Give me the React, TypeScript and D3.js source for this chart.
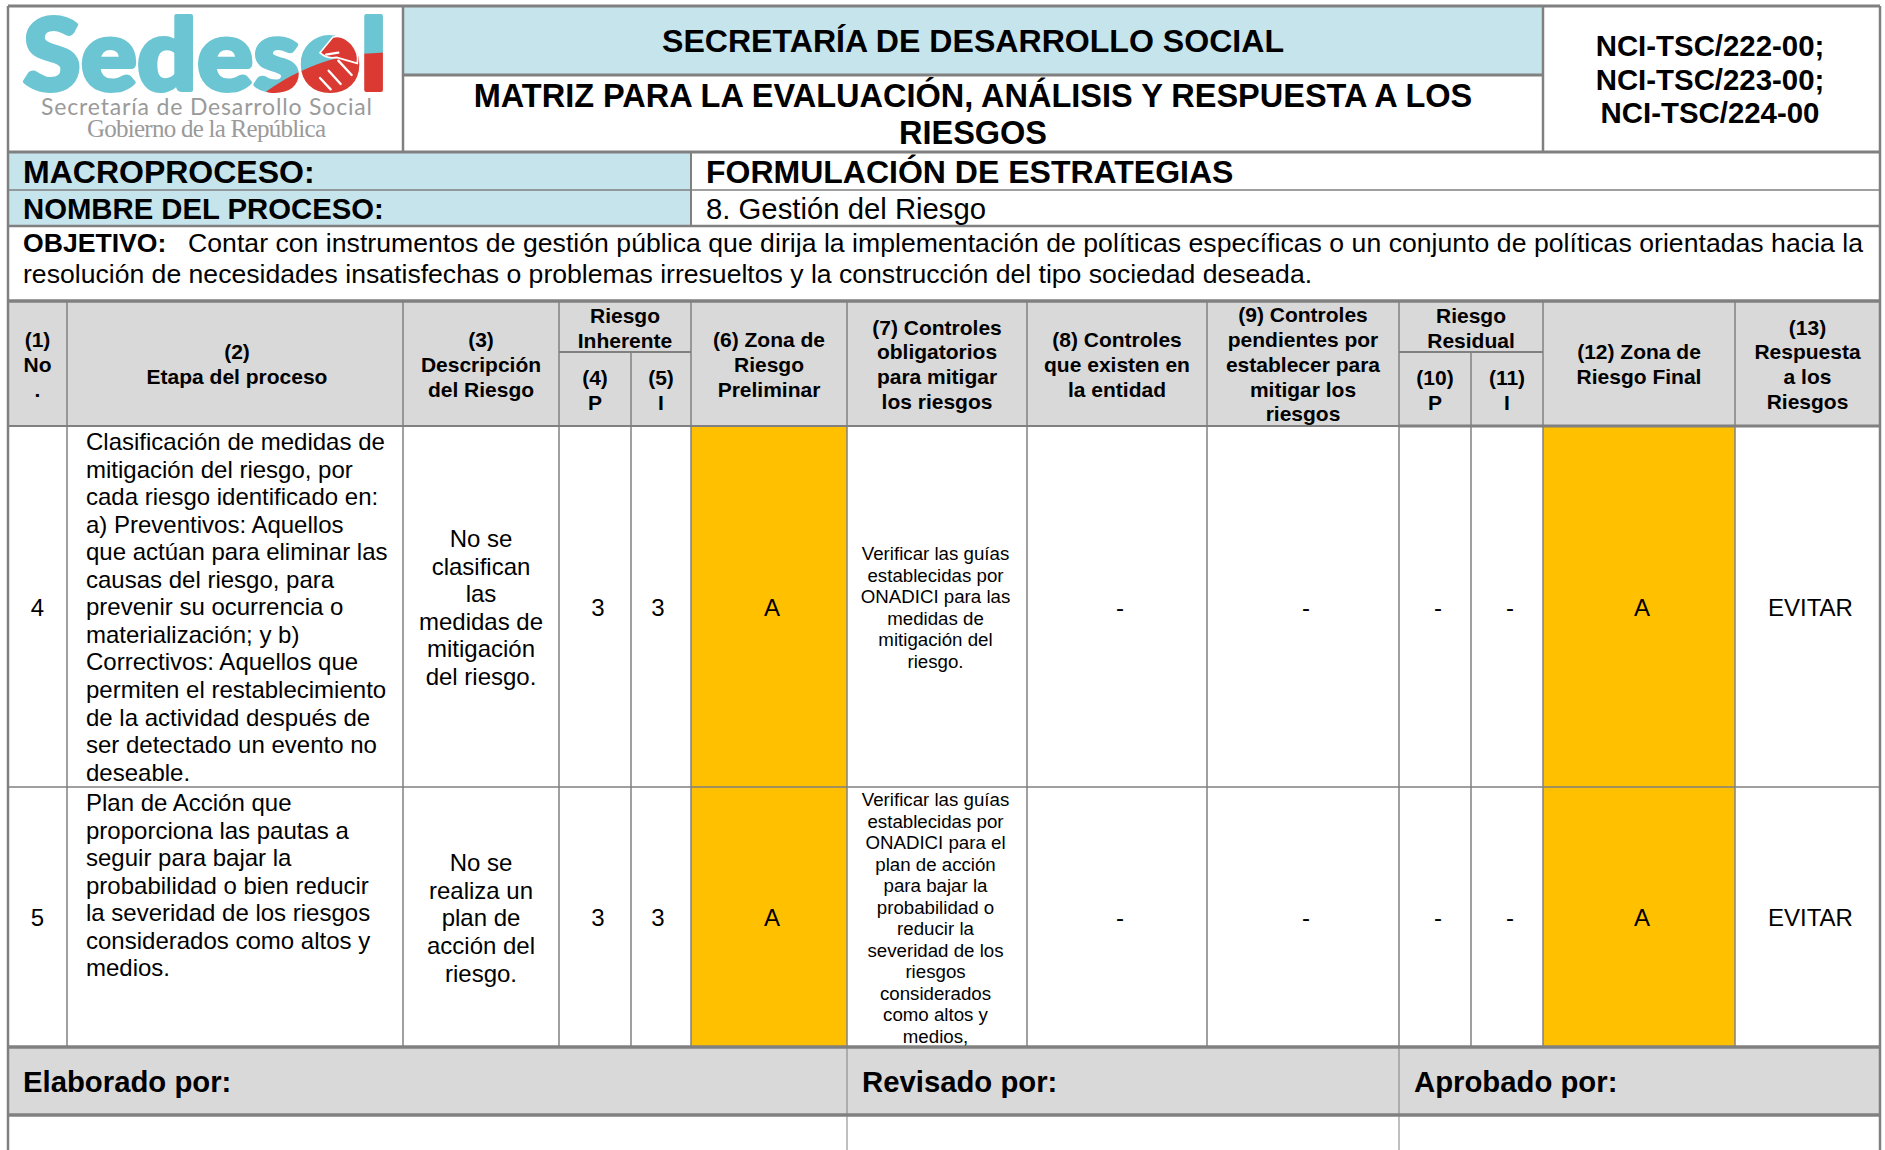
import { useEffect, useRef } from "react";
import * as d3 from "d3";

const FONT = "'Liberation Sans', Arial, sans-serif";

// table text
const orgTitle = "SECRETARÍA DE DESARROLLO SOCIAL";
const matrixTitle = ["MATRIZ PARA LA EVALUACIÓN, ANÁLISIS Y RESPUESTA A LOS", "RIESGOS"];
const docCodes = ["NCI-TSC/222-00;", "NCI-TSC/223-00;", "NCI-TSC/224-00"];
const objectiveLines = [
    "Contar con instrumentos de gestión pública que dirija la implementación de políticas específicas o un conjunto de políticas orientadas hacia la",
    "resolución de necesidades insatisfechas o problemas irresueltos y la construcción del tipo sociedad deseada.",
];

const columnKeys = ["no", "etapa", "desc", "p1", "i1", "zona1", "oblig", "exist", "pend", "p2", "i2", "zona2", "resp", "end"];
const columnEdges = [8, 67, 403, 559, 631, 691, 847, 1027, 1207, 1399, 1471, 1543, 1735, 1880];
const rowKeys = ["top", "band", "head", "macro", "nombre", "obj", "row4", "row5", "foot", "sign", "bottom"];
const rowEdges = [6, 75, 152, 190, 226, 301, 426, 787, 1047, 1115, 1150];

const headerCells: [string, string, string[]][] = [
    ["no", "etapa", ["(1)", "No", "."]],
    ["etapa", "desc", ["(2)", "Etapa del proceso"]],
    ["desc", "p1", ["(3)", "Descripción", "del Riesgo"]],
    ["zona1", "oblig", ["(6) Zona de", "Riesgo", "Preliminar"]],
    ["oblig", "exist", ["(7) Controles", "obligatorios", "para mitigar", "los riesgos"]],
    ["exist", "pend", ["(8) Controles", "que existen en", "la entidad"]],
    ["pend", "p2", ["(9) Controles", "pendientes por", "establecer para", "mitigar los", "riesgos"]],
    ["zona2", "resp", ["(12) Zona de", "Riesgo Final"]],
    ["resp", "end", ["(13)", "Respuesta", "a los", "Riesgos"]],
];
const groupCells: [string, string, string[]][] = [
    ["p1", "zona1", ["Riesgo", "Inherente"]],
    ["p2", "zona2", ["Riesgo", "Residual"]],
];
const subCells: [string, string, string[]][] = [
    ["p1", "i1", ["(4)", "P"]],
    ["i1", "zona1", ["(5)", "I"]],
    ["p2", "i2", ["(10)", "P"]],
    ["i2", "zona2", ["(11)", "I"]],
];

const riskRows = [
    {
        key: "row4",
        next: "row5",
        no: "4",
        stage: [
            "Clasificación de medidas de",
            "mitigación del riesgo, por",
            "cada riesgo identificado en:",
            "a) Preventivos: Aquellos",
            "que actúan para eliminar las",
            "causas del riesgo, para",
            "prevenir su ocurrencia o",
            "materialización; y b)",
            "Correctivos: Aquellos que",
            "permiten el restablecimiento",
            "de la actividad después de",
            "ser detectado un evento no",
            "deseable.",
        ],
        description: ["No se", "clasifican", "las", "medidas de", "mitigación", "del riesgo."],
        controls: [
            "Verificar las guías",
            "establecidas por",
            "ONADICI para las",
            "medidas de",
            "mitigación del",
            "riesgo.",
        ],
    },
    {
        key: "row5",
        next: "foot",
        no: "5",
        stage: [
            "Plan de Acción que",
            "proporciona las pautas a",
            "seguir para bajar la",
            "probabilidad o bien reducir",
            "la severidad de los riesgos",
            "considerados como altos y",
            "medios.",
        ],
        description: ["No se", "realiza un", "plan de", "acción del", "riesgo."],
        controls: [
            "Verificar las guías",
            "establecidas por",
            "ONADICI para el",
            "plan de acción",
            "para bajar la",
            "probabilidad o",
            "reducir la",
            "severidad de los",
            "riesgos",
            "considerados",
            "como altos y",
            "medios,",
        ],
    },
];
const rowScores: [string, string, string, number][] = [
    ["p1", "i1", "3", 3],
    ["i1", "zona1", "3", -3],
    ["exist", "pend", "-", 3],
    ["pend", "p2", "-", 3],
    ["p2", "i2", "-", 3],
    ["i2", "zona2", "-", 3],
    ["resp", "end", "EVITAR", 3],
];
const footerLabels: [string, string][] = [
    ["Elaborado por:", "no"],
    ["Revisado por:", "oblig"],
    ["Aprobado por:", "p2"],
];

const x = d3.scaleOrdinal<string, number>(columnKeys, columnEdges);
const y = d3.scaleOrdinal<string, number>(rowKeys, rowEdges);
const mid = (a: string, b: string) => (x(a) + x(b)) / 2;

type TextOpts = { size: number; weight?: string; anchor?: string; lh?: number; fill?: string };

const App = () => {
    const svgRef = useRef<SVGSVGElement>(null);

    useEffect(() => {
        const svg = d3.select(svgRef.current);
        svg.selectAll("*").remove();

        const rect = (x0: number, y0: number, x1: number, y1: number, fill: string) =>
            svg.append("rect").attr("x", x0).attr("y", y0).attr("width", x1 - x0).attr("height", y1 - y0).attr("fill", fill);

        // first baseline given
        const textAt = (lines: string[], tx: number, ty: number, o: TextOpts) =>
            svg
                .append("g")
                .attr("font-family", FONT)
                .attr("font-size", o.size)
                .attr("font-weight", o.weight ?? "normal")
                .attr("text-anchor", o.anchor ?? "start")
                .attr("fill", o.fill ?? "#000")
                .selectAll("text")
                .data(lines)
                .join("text")
                .attr("x", tx)
                .attr("y", (_, i) => ty + i * (o.lh ?? 0))
                .text((d) => d);

        // block centred on cy
        const textMid = (lines: string[], tx: number, cy: number, o: TextOpts) =>
            textAt(lines, tx, cy - ((lines.length - 1) * (o.lh ?? 0)) / 2 + o.size * 0.35, { anchor: "middle", ...o });

        // fills
        const BLUE = "#c5e4ec";
        const GRAY = "#d9d9d9";
        const AMBER = "#ffc000";
        rect(x("desc"), y("top"), x("zona2"), y("band"), BLUE);
        rect(x("no"), y("head"), x("zona1"), y("nombre"), BLUE);
        rect(x("no"), y("obj") + 1, x("end"), y("row4"), GRAY);
        rect(x("no"), y("foot"), x("end"), y("sign"), GRAY);
        riskRows.forEach((r) => {
            rect(x("zona1"), y(r.key), x("oblig"), y(r.next), AMBER);
            rect(x("zona2"), y(r.key), x("resp"), y(r.next), AMBER);
        });

        // rules
        const rules: [number, number, number, number, number][] = [
            [x("no"), y("top"), x("end"), y("top"), 3],
            [x("desc"), y("band"), x("zona2"), y("band"), 3],
            [x("no"), y("head"), x("end"), y("head"), 3],
            [x("no"), y("macro"), x("end"), y("macro"), 1.5],
            [x("no"), y("nombre"), x("end"), y("nombre"), 2.5],
            [x("no"), y("obj"), x("end"), y("obj"), 3.5],
            [x("no"), y("row4"), x("p2"), y("row4"), 2],
            [x("p2"), y("row4"), x("end"), y("row4"), 3],
            [x("no"), y("row5"), x("end"), y("row5"), 1.5],
            [x("no"), y("foot"), x("end"), y("foot"), 3.5],
            [x("no"), y("sign"), x("end"), y("sign"), 3.5],
            [x("p1"), 352, x("zona1"), 352, 2],
            [x("p2"), 352, x("zona2"), 352, 2],
            [x("desc"), y("top"), x("desc"), y("head"), 2.5],
            [x("zona2"), y("top"), x("zona2"), y("head"), 2.5],
            [x("zona1"), y("head"), x("zona1"), y("nombre"), 2],
            [x("no"), y("top"), x("no"), y("bottom"), 2.5],
            [x("end"), y("top"), x("end"), y("bottom"), 2.5],
            [x("oblig"), y("foot"), x("oblig"), y("bottom"), 1],
            [x("p2"), y("foot"), x("p2"), y("bottom"), 1],
            [x("i1"), 352, x("i1"), y("foot"), 1.5],
            [x("i2"), 352, x("i2"), y("foot"), 1.5],
        ];
        ["etapa", "desc", "p1", "zona1", "oblig", "exist", "pend", "p2", "zona2", "resp"].forEach((k) =>
            rules.push([x(k), y("obj"), x(k), y("foot"), 1.5])
        );
        svg.append("g")
            .selectAll("line")
            .data(rules)
            .join("line")
            .attr("x1", (d) => d[0])
            .attr("y1", (d) => d[1])
            .attr("x2", (d) => d[2])
            .attr("y2", (d) => d[3])
            .attr("stroke", "#808080")
            .attr("stroke-width", (d) => d[4]);

        // top band
        textAt([orgTitle], 973, 52, { size: 32.1, weight: "bold", anchor: "middle" });
        textAt(matrixTitle, 973, 107, { size: 32.5, weight: "bold", anchor: "middle", lh: 37 });
        textAt(docCodes, 1710, 56, { size: 29.4, weight: "bold", anchor: "middle", lh: 33.5 });

        // process lines
        textAt(["MACROPROCESO:"], 23, 183, { size: 32, weight: "bold" });
        textAt(["NOMBRE DEL PROCESO:"], 23, 219, { size: 29.3, weight: "bold" });
        textAt(["FORMULACIÓN DE ESTRATEGIAS"], 706, 183, { size: 32, weight: "bold" });
        textAt(["8. Gestión del Riesgo"], 706, 219, { size: 29.3 });

        // objective
        textAt(["OBJETIVO:"], 23, 252, { size: 26.6, weight: "bold" });
        textAt([objectiveLines[0]], 188, 252, { size: 26.6 }).attr("textLength", 1675).attr("lengthAdjust", "spacing");
        textAt([objectiveLines[1]], 23, 283, { size: 26.6 });

        // table head
        const headOpts = { size: 21, weight: "bold", lh: 24.8 };
        const headMid = (y("obj") + y("row4")) / 2 + 1;
        headerCells.forEach(([a, b, lines]) =>
            textMid(lines, mid(a, b) + (a === "etapa" ? 2 : 0), headMid, headOpts)
        );
        groupCells.forEach(([a, b, lines]) => textMid(lines, mid(a, b), 328, headOpts));
        subCells.forEach(([a, b, lines]) => textMid(lines, mid(a, b), 390, headOpts));

        // risk rows
        riskRows.forEach((r) => {
            const cy = (y(r.key) + y(r.next)) / 2 + 1;
            const bodyOpts = { size: 24, lh: 27.56 };
            textMid([r.no], mid("no", "etapa"), cy, { size: 24 });
            textAt(r.stage, 86, y(r.key) + 24, { ...bodyOpts, anchor: "start" });
            textMid(r.description, mid("desc", "p1"), cy, bodyOpts);
            textMid(r.controls, mid("oblig", "exist") - 1.5, cy, { size: 18.7, lh: 21.5 });
            textMid(["A"], mid("zona1", "oblig") + 3, cy, { size: 24 });
            textMid(["A"], mid("zona2", "resp") + 3, cy, { size: 24 });
            rowScores.forEach(([a, b, v, nudge]) => textMid([v], mid(a, b) + nudge, cy, { size: 24 }));
        });

        // footer
        footerLabels.forEach(([label, col]) =>
            textAt([label], x(col) + 15, 1092, { size: 29.3, weight: "bold" })
        );

        // logo: teal word with a red lower sweep, done as a pattern so the word stays one text
        const pattern = svg
            .append("defs")
            .append("pattern")
            .attr("id", "logo-fill")
            .attr("patternUnits", "userSpaceOnUse")
            .attr("width", 1885)
            .attr("height", 1150);
        pattern.append("rect").attr("width", 1885).attr("height", 1150).attr("fill", "#6bc5d2");
        pattern
            .append("path")
            .attr("d", "M258,98 C285,76 320,60 352,55 C365,53 380,53 395,52 L395,100 Z")
            .attr("fill", "#db3a33");

        svg.append("circle").attr("cx", 329).attr("cy", 63).attr("r", 28).attr("fill", "url(#logo-fill)");
        svg.append("text")
            .attr("x", 23)
            .attr("y", 90)
            .attr("font-family", "Lato, 'Open Sans', sans-serif")
            .attr("font-weight", 900)
            .attr("font-size", 100)
            .attr("fill", "url(#logo-fill)")
            .attr("stroke", "url(#logo-fill)")
            .attr("stroke-width", 4)
            .attr("stroke-linejoin", "round")
            .attr("textLength", 364)
            .attr("lengthAdjust", "spacingAndGlyphs")
            .text("Sedesol");
        const hands = svg.append("g").attr("transform", "translate(270,20) scale(0.3333)");
        hands.append("path")
            .attr("d", "M150,98 L188,52 Q215,42 245,72 Q268,100 262,130 L200,112 Q170,118 150,98 Z")
            .attr("fill", "#db3a33")
            .attr("stroke", "#fff")
            .attr("stroke-width", 5);
        hands.append("path")
            .attr("d", "M205,122 L245,165 M176,152 L212,192 M150,174 L182,208 M168,104 L205,98")
            .attr("fill", "none")
            .attr("stroke", "#fff")
            .attr("stroke-width", 7)
            .attr("stroke-linecap", "round");
        svg.append("text")
            .attr("x", 41)
            .attr("y", 115)
            .attr("font-family", "Lato, sans-serif")
            .attr("font-size", 23)
            .attr("fill", "#9a9a9a")
            .attr("textLength", 331)
            .text("Secretaría de Desarrollo Social");
        svg.append("text")
            .attr("x", 87)
            .attr("y", 137)
            .attr("font-family", "'Liberation Serif', serif")
            .attr("font-size", 25)
            .attr("fill", "#9a9a9a")
            .attr("textLength", 239)
            .text("Gobierno de la República");
    }, []);

    return (
        <svg
            ref={svgRef}
            width={1885}
            height={1150}
            style={{ position: "absolute", left: 0, top: 0, background: "#fff" }}
        ></svg>
    );
};

export default App;
